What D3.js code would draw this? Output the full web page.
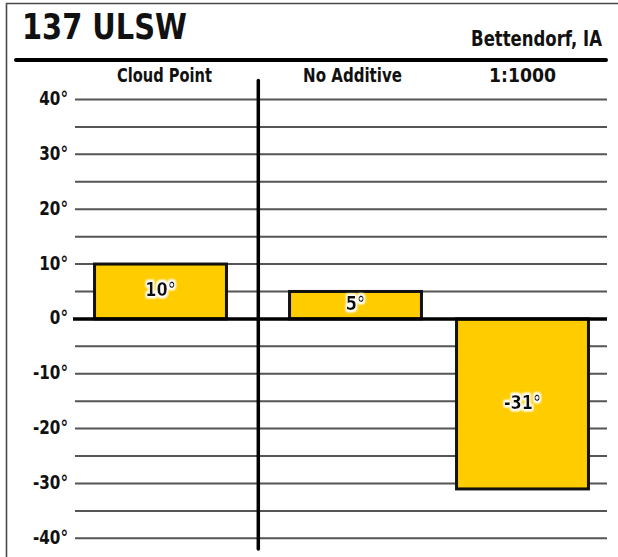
<!DOCTYPE html>
<html>
<head>
<meta charset="utf-8">
<script src="https://cdn.jsdelivr.net/npm/d3@7/dist/d3.min.js"></script>
<style>
  html, body { margin: 0; padding: 0; background: #fff; }
  svg { display: block; }
</style>
</head>
<body>
<svg id="chart" width="618" height="557"></svg>
<script>
// Chart content
const chartTitle = "137 ULSW";
const siteName = "Bettendorf, IA";
const categories = ["Cloud Point", "No Additive", "1:1000"];
const values = [10, 5, -31];
const yTickValues = [40, 30, 20, 10, 0, -10, -20, -30, -40];
const yTickLabels = ["40°", "30°", "20°", "10°", "0°", "-10°", "-20°", "-30°", "-40°"];

const FONT = "'DejaVu Sans', 'Liberation Sans', sans-serif";
const SQUEEZE = 0.8; // horizontal condensing of the bold face

const svg = d3.select("#chart");

// Draw a text at (x, y) and squeeze it horizontally to the given width.
function fittedText(parent, str, x, y, width, size, anchor) {
  const g = parent.append("g").attr("transform", `translate(${x},${y})`);
  const t = g.append("text")
    .attr("text-anchor", anchor)
    .attr("font-family", FONT).attr("font-weight", "bold").attr("font-size", size)
    .attr("fill", "#111").text(str);
  const len = t.node().getComputedTextLength();
  t.attr("transform", `scale(${width / len},1)`);
  return t;
}

// soft white glow behind the value labels
const defs = svg.append("defs");
const glow = defs.append("filter").attr("id", "halo")
  .attr("x", "-20%").attr("y", "-30%").attr("width", "140%").attr("height", "160%");
glow.append("feMorphology").attr("in", "SourceAlpha").attr("operator", "dilate").attr("radius", 1.6).attr("result", "fat");
glow.append("feGaussianBlur").attr("in", "fat").attr("stdDeviation", 1.2).attr("result", "soft");
glow.append("feFlood").attr("flood-color", "#fff").attr("result", "white");
glow.append("feComposite").attr("in", "white").attr("in2", "soft").attr("operator", "in").attr("result", "glow");
const merge = glow.append("feMerge");
merge.append("feMergeNode").attr("in", "glow");
merge.append("feMergeNode").attr("in", "glow");
merge.append("feMergeNode").attr("in", "SourceGraphic");

// outer frame (left and top edges)
svg.append("path")
  .attr("d", "M6.5,557 V3.5 H618")
  .attr("fill", "none").attr("stroke", "#4a4a4a").attr("stroke-width", 1.6);

// header
fittedText(svg, chartTitle, 22, 39, 165, 35, "start");
fittedText(svg, siteName, 602, 46, 131, 21, "end");

svg.append("line")
  .attr("x1", 16).attr("x2", 606).attr("y1", 60).attr("y2", 60)
  .attr("stroke", "#000").attr("stroke-width", 4).attr("stroke-linecap", "round");

// scales
const y = d3.scaleLinear().domain([-40, 40]).range([538.3, 99.5]);

// the first category sits in its own panel, left of the divider
const xA = d3.scaleBand().domain(categories.slice(0, 1)).range([77, 244])
  .paddingInner(0.21).paddingOuter(0.105);
const xB = d3.scaleBand().domain(categories.slice(1)).range([272, 606])
  .paddingInner(0.21).paddingOuter(0.105);
const xOf = c => (xA.domain().includes(c) ? xA(c) : xB(c));
const bw = xB.bandwidth();

const plotLeft = 75, plotRight = 607;

// gridlines every 5 degrees
const gridTicks = y.ticks(16).filter(t => t !== 0);
svg.append("g").selectAll("line").data(gridTicks).join("line")
  .attr("x1", plotLeft).attr("x2", plotRight)
  .attr("y1", d => y(d)).attr("y2", d => y(d))
  .attr("stroke", "#555").attr("stroke-width", 2);

// y axis labels
const yAxis = d3.axisLeft(y)
  .tickValues(yTickValues)
  .tickFormat((d, i) => yTickLabels[i])
  .tickSize(0).tickPadding(0);
const gy = svg.append("g").attr("transform", "translate(68,0)").call(yAxis);
gy.select(".domain").remove();
gy.selectAll("text")
  .attr("x", 0).attr("dy", null).attr("y", 5)
  .attr("transform", `scale(${SQUEEZE},1)`)
  .attr("font-family", FONT).attr("font-weight", "bold").attr("font-size", 19)
  .attr("fill", "#111");

// column headers
const headerWidths = [95, 99, 67];
const headerShift = [4, -3, 0];
const gh = svg.append("g");
categories.forEach((c, i) =>
  fittedText(gh, c, xOf(c) + bw / 2 + headerShift[i], 82, headerWidths[i], 19, "middle"));

// bars
const data = categories.map((c, i) => ({ c, v: values[i] }));
svg.append("g").selectAll("rect").data(data).join("rect")
  .attr("x", d => xOf(d.c)).attr("width", bw)
  .attr("y", d => y(Math.max(0, d.v)))
  .attr("height", d => Math.abs(y(d.v) - y(0)))
  .attr("fill", "#FFCC00").attr("stroke", "#111").attr("stroke-width", 3);

// zero line
svg.append("line")
  .attr("x1", 73).attr("x2", plotRight).attr("y1", y(0)).attr("y2", y(0))
  .attr("stroke", "#000").attr("stroke-width", 3.5);

// panel divider
svg.append("line")
  .attr("x1", 258.3).attr("x2", 258.3).attr("y1", 80.5).attr("y2", 549)
  .attr("stroke", "#000").attr("stroke-width", 3.5).attr("stroke-linecap", "round");

// value labels, centred in each bar
svg.append("g").selectAll("g").data(data).join("g")
  .attr("transform", d => `translate(${xOf(d.c) + bw / 2},${(y(d.v) + y(0)) / 2 + 5})`)
  .append("text")
  .attr("text-anchor", "middle")
  .attr("transform", `scale(${SQUEEZE + 0.05},1)`)
  .attr("font-family", FONT).attr("font-weight", "bold").attr("font-size", 19)
  .attr("fill", "#111").attr("filter", "url(#halo)")
  .text(d => d.v + "°");
</script>
</body>
</html>
